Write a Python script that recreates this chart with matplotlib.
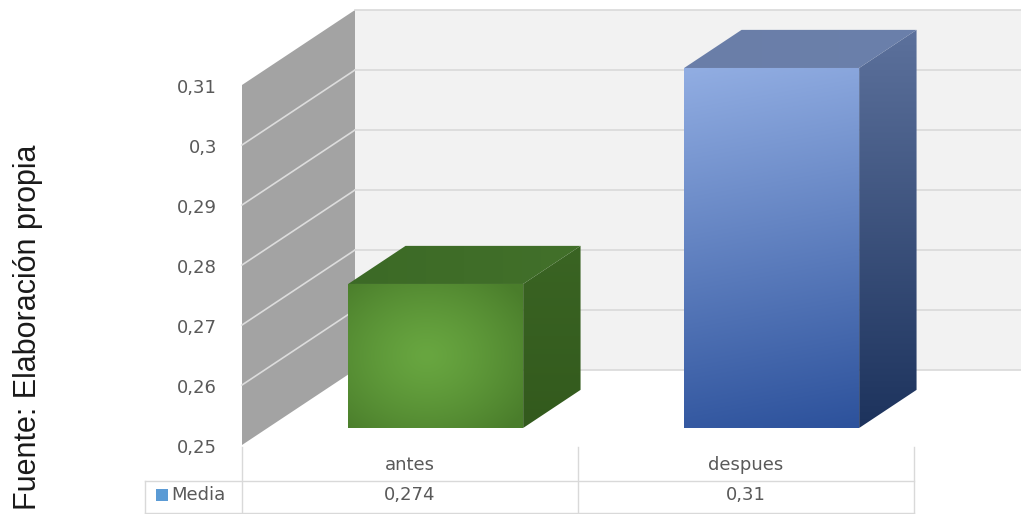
import numpy as np
import matplotlib.pyplot as plt
from matplotlib.patches import Polygon, Rectangle
from matplotlib.colors import to_rgb

# datos
categorias = ['antes', 'despues']
media = [0.274, 0.31]
etiquetas_valor = ['0,274', '0,31']
ticks = [0.25, 0.26, 0.27, 0.28, 0.29, 0.30, 0.31]
ticks_txt = ['0,25', '0,26', '0,27', '0,28', '0,29', '0,3', '0,31']
serie = 'Media'
fuente = 'Fuente: Elaboración propia'

# geometria de la proyeccion oblicua
W, H = 1021, 514
PX_CAT = 336.0        # pixeles por categoria
PX_VAL = 6000.0       # pixeles por unidad de valor
X0_PX, Y0_PX = 242, 445   # esquina frontal del eje (x=-0.5, v=0.25)
DX = 113 / PX_CAT     # desplazamiento de fondo en x
DY = 75 / PX_VAL      # desplazamiento de fondo en y
BW = 175 / PX_CAT     # ancho de barra
D0, D1 = 0.227, 0.735 # profundidad frontal y trasera de la barra
VMIN, VMAX = ticks[0], ticks[-1]

GRIS = '#595959'
LINEA = '#d9d9d9'
FS = 13
plt.rcParams['font.family'] = ['DejaVu Sans']


def proj(x, v, d):
    return (x + d * DX, v + d * DY)


def mezcla(c1, c2, t):
    c1 = np.array(to_rgb(c1))
    c2 = np.array(to_rgb(c2))
    t = np.clip(t, 0, 1)[..., None]
    return c1 * (1 - t) + c2 * t


def cara(ax, pts, img, z):
    poly = Polygon(pts, closed=True, fc='none', ec='none', zorder=z)
    ax.add_patch(poly)
    xs = [p[0] for p in pts]
    ys = [p[1] for p in pts]
    im = ax.imshow(img, extent=(min(xs), max(xs), min(ys), max(ys)),
                   aspect='auto', interpolation='bilinear', zorder=z)
    im.set_clip_path(poly)


fig = plt.figure(figsize=(W / 100, H / 100), dpi=100)
ax = fig.add_axes([0, 0, 1, 1])
xmin = -0.5 - X0_PX / PX_CAT
xmax = -0.5 + (W - X0_PX) / PX_CAT
ymin = VMIN - (H - Y0_PX) / PX_VAL
ymax = VMIN + Y0_PX / PX_VAL
ax.axis('off')

# pared lateral
xl = -0.5
pared = [proj(xl, VMIN, 0), proj(xl, VMIN, 1), proj(xl, VMAX, 1), proj(xl, VMAX, 0)]
ax.add_patch(Polygon(pared, closed=True, fc='#a3a3a3', ec='none', zorder=1))
# pared del fondo
bx, by = proj(xl, VMIN, 1)
ax.add_patch(Rectangle((bx, by), xmax - bx + 1, VMAX - VMIN, fc='#f2f2f2', ec='none', zorder=1))

for t, lab in zip(ticks, ticks_txt):
    a = proj(xl, t, 0)
    b = proj(xl, t, 1)
    if VMIN < t < VMAX:
        ax.plot([a[0], b[0]], [a[1], b[1]], color='#dcdcdc', lw=1.2, zorder=2)
    ax.plot([b[0], xmax + 1], [b[1], b[1]], color=LINEA, lw=1.2, zorder=2)
    ax.text(xl - 25 / PX_CAT, t - 3 / PX_VAL, lab, ha='right', va='center',
            fontsize=FS, color=GRIS, zorder=5)

# barras
estilos = [
    dict(front=('#68a640', '#4a7d2b'), top=('#3c6a26', '#42702a'), side=('#3a6423', '#335a1d'), tipo='radial'),
    dict(front=('#91ade2', '#2d529c'), top=('#6a7ea8', '#6b80ab'), side=('#5c719c', '#1d335d'), tipo='lineal'),
]
n = 64
gy, gx = np.mgrid[0:1:n * 1j, 0:1:n * 1j]
for i, (val, est) in enumerate(zip(media, estilos)):
    x0, x1 = i - BW / 2, i + BW / 2
    # cara lateral
    lado = [proj(x1, VMIN, D0), proj(x1, VMIN, D1), proj(x1, val, D1), proj(x1, val, D0)]
    cara(ax, lado, mezcla(est['side'][0], est['side'][1], gy), 3)
    # cara superior
    arriba = [proj(x0, val, D0), proj(x1, val, D0), proj(x1, val, D1), proj(x0, val, D1)]
    cara(ax, arriba, mezcla(est['top'][0], est['top'][1], gx), 3)
    # cara frontal
    frente = [proj(x0, VMIN, D0), proj(x1, VMIN, D0), proj(x1, val, D0), proj(x0, val, D0)]
    if est['tipo'] == 'radial':
        r = np.sqrt(((gx - 0.45) / 0.7) ** 2 + ((gy - 0.5) / 0.7) ** 2)
        img = mezcla(est['front'][0], est['front'][1], r ** 1.3)
    else:
        img = mezcla(est['front'][0], est['front'][1], gy * 0.92 + gx * 0.08)
    cara(ax, frente, img, 4)

# tabla de datos
y_cab = VMIN - 20 / PX_VAL
y_fila = VMIN - 50 / PX_VAL
y_sep = VMIN - 36 / PX_VAL
y_fin = VMIN - 68 / PX_VAL
y_ini = VMIN - 2 / PX_VAL
x_izq = -0.5 - 97 / PX_CAT
x_der = len(categorias) - 0.5
for k in range(len(categorias) + 1):
    ax.plot([k - 0.5, k - 0.5], [y_ini, y_fin], color=LINEA, lw=1, zorder=2)
ax.plot([x_izq, x_izq], [y_sep, y_fin], color=LINEA, lw=1, zorder=2)
ax.plot([x_izq, x_der], [y_sep, y_sep], color=LINEA, lw=1, zorder=2)
ax.plot([x_izq, x_der], [y_fin, y_fin], color=LINEA, lw=1, zorder=2)
for i, cat in enumerate(categorias):
    ax.text(i, y_cab, cat, ha='center', va='center', fontsize=FS, color=GRIS)
    ax.text(i, y_fila, etiquetas_valor[i], ha='center', va='center', fontsize=FS, color=GRIS)
ax.add_patch(Rectangle((x_izq + 11 / PX_CAT, y_fila - 6 / PX_VAL), 12 / PX_CAT, 12 / PX_VAL,
                       fc='#5b9bd5', ec='none'))
ax.text(x_izq + 26 / PX_CAT, y_fila, serie, ha='left', va='center', fontsize=FS, color=GRIS)

fig.text(28 / W, 1 - 327 / H, fuente, rotation=90, ha='center', va='center',
         fontsize=22, color='#1a1a1a', family=['Liberation Sans', 'DejaVu Sans'])

ax.set_xlim(xmin, xmax)
ax.set_ylim(ymin, ymax)
fig.savefig('out.png', dpi=100)
